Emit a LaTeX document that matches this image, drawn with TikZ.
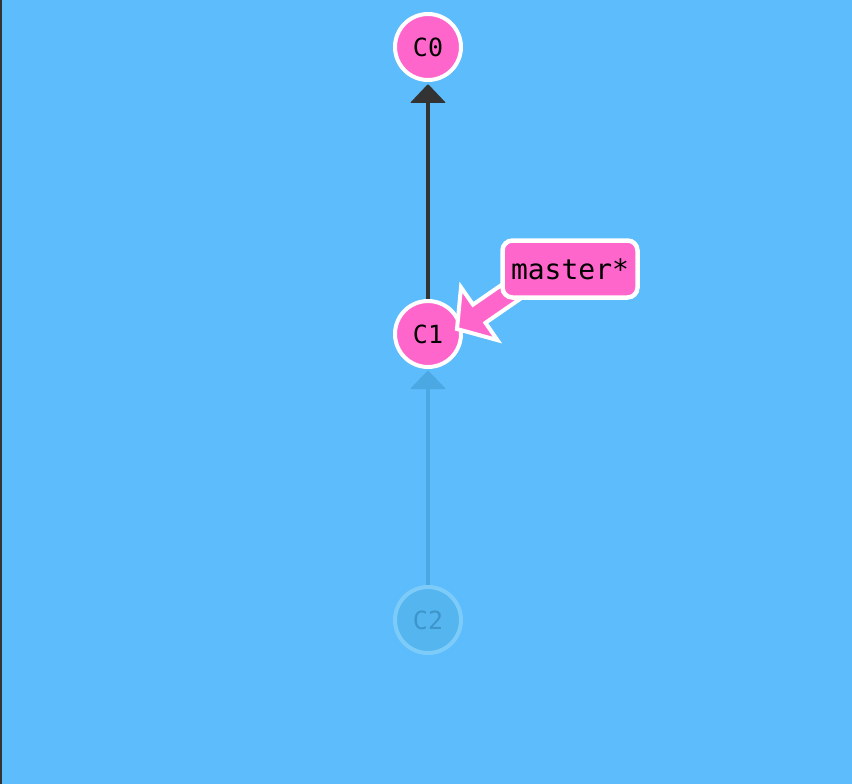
\documentclass[tikz,border=0pt]{standalone}
\usepackage{fontspec}
\setmonofont{DejaVu Sans Mono}
\usetikzlibrary{calc}
\definecolor{bgblue}{HTML}{5CBCFC}
\definecolor{pinkfill}{HTML}{FF66CC}
\definecolor{darkline}{HTML}{333333}
\definecolor{fadeline}{HTML}{4BA8E3}
\definecolor{fadefill}{HTML}{55B5EE}
\definecolor{fadeborder}{HTML}{7CCBF8}
\definecolor{fadetext}{HTML}{3E95CC}
\tikzset{
  commit/.style={circle, draw=white, line width=4pt, fill=pinkfill, minimum size=66pt, inner sep=0pt, font=\ttfamily\fontsize{25}{25}\selectfont},
  fadecommit/.style={circle, draw=fadeborder, line width=4pt, fill=fadefill, minimum size=66pt, inner sep=0pt, text=fadetext, font=\ttfamily\fontsize{25}{25}\selectfont},
  branchbox/.style={rectangle, rounded corners=10pt, draw=white, line width=4.5pt, fill=pinkfill, minimum width=135pt, minimum height=57pt, inner sep=0pt, font=\ttfamily\fontsize{28}{28}\selectfont},
}
\begin{document}
\begin{tikzpicture}[x=1pt,y=-1pt]
\useasboundingbox (0,0) rectangle (852,784);
\fill[bgblue] (0,0) rectangle (852,784);
\fill[darkline] (0,0) rectangle (2,784);

% faded connector C2 -> C1
\draw[fadeline, line width=4pt] (428,586) -- (428,386);
\fill[fadeline, rounded corners=1pt] (410,389) -- (428,370.5) -- (446,389) -- cycle;

% connector C1 -> C0
\draw[darkline, line width=4pt] (428,300) -- (428,100);
\fill[darkline, rounded corners=1pt] (410,103) -- (428,84) -- (446,103) -- cycle;

\node[commit] (c0) at (428,47) {C0};
\node[commit] (c1) at (428,334) {C1};
\node[fadecommit] (c2) at (428,620) {C2};

% branch arrow
\coordinate (tip) at (457,329);
\filldraw[fill=pinkfill, draw=white, line width=4pt, line join=miter]
  (tip) -- (497.4,340.1) -- (485.5,322.8) -- (537.4,287.0) -- (524.9,268.8) -- (473.0,304.6) -- (461.0,287.3) -- cycle;

\node[branchbox] (master) at (570,269) {master*};
\end{tikzpicture}
\end{document}
